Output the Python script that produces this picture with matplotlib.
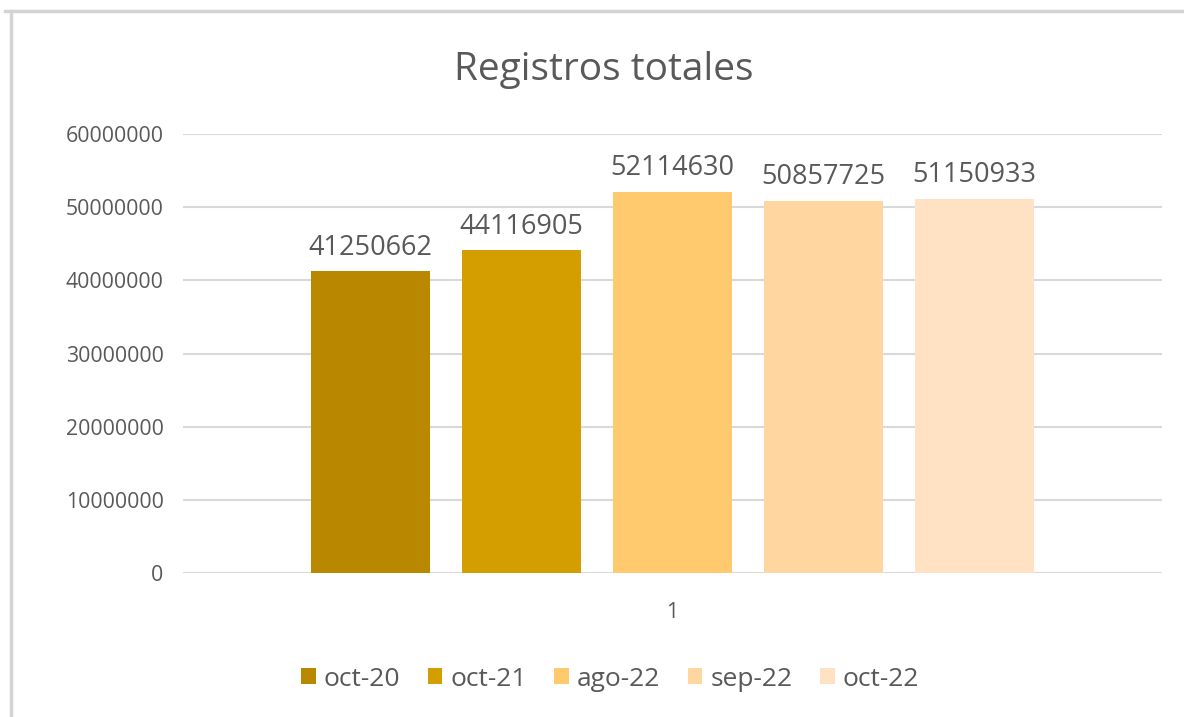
import matplotlib
matplotlib.use("Agg")
import matplotlib.pyplot as plt
from matplotlib.patches import Patch
from matplotlib.lines import Line2D

title = "Registros totales"
series = ["oct-20", "oct-21", "ago-22", "sep-22", "oct-22"]
values = [41250662, 44116905, 52114630, 50857725, 51150933]
category = "1"
yticks = [0, 10000000, 20000000, 30000000, 40000000, 50000000, 60000000]
colors = ["#B98800", "#D49E00", "#FFC96E", "#FFD6A0", "#FFE2C4"]

plt.rcParams["font.family"] = ["Open Sans", "DejaVu Sans"]
text_color = "#595959"
grid_color = "#D9D9D9"

fig = plt.figure(figsize=(11.84, 7.17), dpi=100)
fig.patch.set_facecolor("white")

# chart frame (top and left edges)
fig.add_artist(Line2D([5 / 1184, 1], [1 - 11 / 717, 1 - 11 / 717],
                      color="#D4D4D4", lw=2.5, transform=fig.transFigure))
fig.add_artist(Line2D([11 / 1184, 11 / 1184], [0, 1 - 11 / 717],
                      color="#D4D4D4", lw=2.5, transform=fig.transFigure))

ax = fig.add_axes([183 / 1184, 1 - 573 / 717, 979 / 1184, (573 - 134) / 717])

step = 0.1542
width = 0.1216
n = len(series)
for i, (name, v, c) in enumerate(zip(series, values, colors)):
    x = (i - (n - 1) / 2) * step
    ax.bar(x, v, width=width, color=c, zorder=3, label=name)
    ax.text(x, v + 1300000, f"{v}", ha="center", va="bottom",
            fontsize=19.5, color=text_color)

ax.set_xlim(-0.5, 0.5)
ax.set_ylim(0, 60000000)
ax.set_yticks(yticks)
ax.set_yticklabels([str(t) for t in yticks], fontsize=15.3, color=text_color)
ax.yaxis.grid(True, color=grid_color, lw=1.5, zorder=0)
ax.set_xticks([0])
ax.set_xticklabels([category], fontsize=15.3, color=text_color)
ax.tick_params(axis="both", length=0)
ax.tick_params(axis="y", pad=14)
ax.tick_params(axis="x", pad=21)
for s in ["top", "right", "left", "bottom"]:
    ax.spines[s].set_visible(False)

fig.text(604 / 1184, 1 - 70 / 717, title, ha="center", va="center",
         fontsize=28, color=text_color)

handles = [Patch(facecolor=c, label=s) for s, c in zip(series, colors)]
fig.legend(handles=handles, loc="center", bbox_to_anchor=(610 / 1184, 1 - 679 / 717),
           ncol=5, frameon=False, fontsize=19, labelcolor=text_color,
           handlelength=0.55, handleheight=0.55, handletextpad=0.3,
           columnspacing=1.05)

fig.savefig("out.png", dpi=100, facecolor="white")
